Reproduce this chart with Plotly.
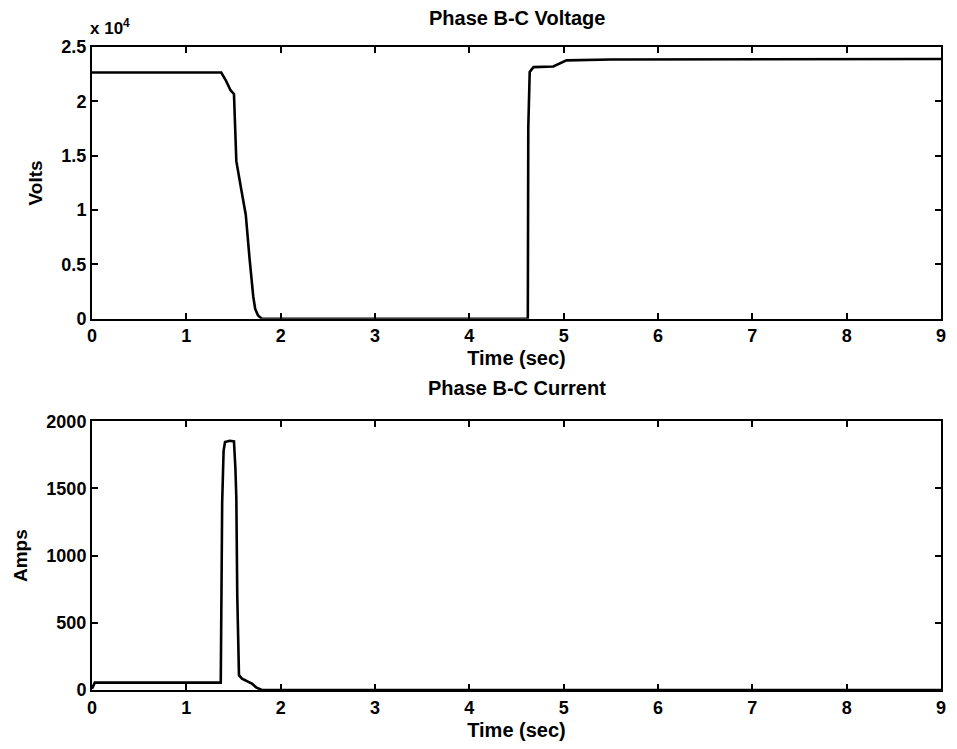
import plotly.graph_objects as go
from plotly.subplots import make_subplots

# ---- data ----
t_voltage = [0, 1.37, 1.42, 1.47, 1.505, 1.53, 1.58, 1.63, 1.67, 1.69, 1.71, 1.73, 1.76, 1.80,
             4.62, 4.625, 4.64, 4.68, 4.89, 5.03, 5.5, 9.0]
voltage = [22650, 22650, 21900, 21000, 20680, 14500, 12000, 9570, 5560, 3700, 2000, 900, 300, 0,
           0, 17600, 22700, 23150, 23210, 23770, 23850, 23900]

t_current = [0, 0.03, 1.365, 1.38, 1.395, 1.41, 1.46, 1.505, 1.52, 1.53, 1.54, 1.558, 1.59,
             1.65, 1.70, 1.74, 1.80, 9.0]
current = [10, 55, 55, 1400, 1780, 1845, 1855, 1850, 1650, 1430, 700, 110, 84,
           60, 45, 20, 0, 0]

x_ticks = [0, 1, 2, 3, 4, 5, 6, 7, 8, 9]
v_tickvals = [0, 5000, 10000, 15000, 20000, 25000]
v_ticktext = ["0", "0.5", "1", "1.5", "2", "2.5"]
i_tickvals = [0, 500, 1000, 1500, 2000]

FONT = "Liberation Sans"
W, H = 957, 749
ML, MR, MT, MB = 92, 11, 47, 56
top_bottom_px = 320
bot_top_px = 423
plot_h = H - MT - MB

fig = make_subplots(rows=2, cols=1)
fig.add_trace(go.Scatter(x=t_voltage, y=voltage, mode="lines",
                         line=dict(color="black", width=2.6), showlegend=False), row=1, col=1)
fig.add_trace(go.Scatter(x=t_current, y=current, mode="lines",
                         line=dict(color="black", width=2.6), showlegend=False), row=2, col=1)

axis_common = dict(showline=True, linecolor="black", linewidth=2, mirror="allticks",
                   ticks="inside", ticklen=6, tickwidth=2, tickcolor="black",
                   showgrid=False, zeroline=False,
                   tickfont=dict(family=FONT, size=18, color="black", weight="bold"))

top_dom = [(H - MB - top_bottom_px) / plot_h, 1.0]
bot_dom = [0.0, (H - MB - bot_top_px) / plot_h]

fig.update_xaxes(**axis_common, range=[0, 9], tickvals=x_ticks)
fig.update_xaxes(title=dict(text="Time (sec)", standoff=6,
                            font=dict(family=FONT, size=20, color="black", weight="bold")))
fig.update_yaxes(**axis_common)
fig.update_yaxes(range=[0, 25000], tickvals=v_tickvals, ticktext=v_ticktext, domain=top_dom,
                 title=dict(text="Volts", standoff=14,
                            font=dict(family=FONT, size=19, color="black", weight="bold")),
                 row=1, col=1)
fig.update_yaxes(range=[0, 2000], tickvals=i_tickvals, domain=bot_dom,
                 title=dict(text="Amps", standoff=14,
                            font=dict(family=FONT, size=19, color="black", weight="bold")),
                 row=2, col=1)

title_font = dict(family=FONT, size=20, color="black", weight="bold")
fig.add_annotation(text="Phase B-C Voltage", xref="paper", yref="paper",
                   x=0.5, y=(H - MB - 18) / plot_h, xanchor="center", yanchor="middle",
                   showarrow=False, font=title_font)
fig.add_annotation(text="Phase B-C Current", xref="paper", yref="paper",
                   x=0.5, y=(H - MB - 390) / plot_h, xanchor="center", yanchor="middle",
                   showarrow=False, font=title_font)
fig.add_annotation(text="x 10<sup>4</sup>", xref="paper", yref="paper",
                   x=(88 - ML) / (W - ML - MR), y=(H - MB - 40) / plot_h,
                   xanchor="left", yanchor="bottom", showarrow=False,
                   font=dict(family=FONT, size=17, color="black", weight="bold"))

fig.update_layout(width=W, height=H, margin=dict(l=ML, r=MR, t=MT, b=MB),
                  plot_bgcolor="white", paper_bgcolor="white", showlegend=False)

fig.write_html("out.html")
